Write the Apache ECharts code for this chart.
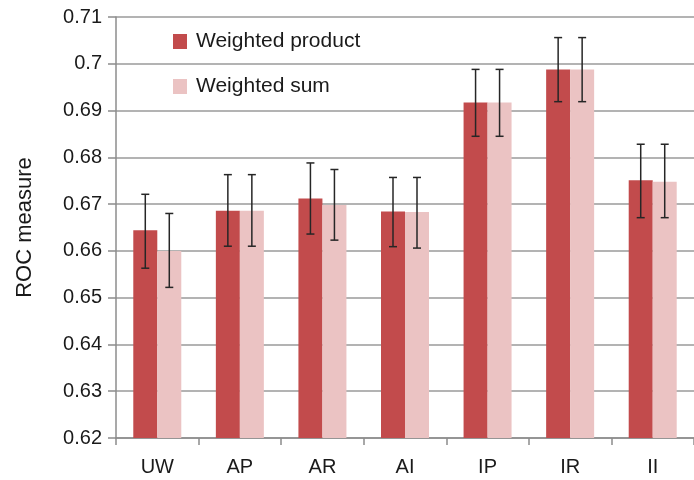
<!DOCTYPE html>
<html><head><meta charset="utf-8">
<script src="https://cdn.jsdelivr.net/npm/echarts@6/dist/echarts.min.js"></script>
<style>html,body{margin:0;padding:0;background:#fff}#c{width:694px;height:480px}</style>
</head><body><div id="c"></div>
<script>
var categories = ['UW','AP','AR','AI','IP','IR','II'];
var productValues = [0.6644, 0.6686, 0.6712, 0.6684, 0.6917, 0.6988, 0.6751];
var sumValues     = [0.6600, 0.6686, 0.6698, 0.6683, 0.6917, 0.6988, 0.6748];
var productLow  = [0.6563, 0.6610, 0.6636, 0.6609, 0.6845, 0.6919, 0.6671];
var productHigh = [0.6721, 0.6763, 0.6788, 0.6757, 0.6988, 0.7056, 0.6828];
var sumLow  = [0.6522, 0.6610, 0.6623, 0.6606, 0.6845, 0.6919, 0.6671];
var sumHigh = [0.6680, 0.6763, 0.6774, 0.6757, 0.6988, 0.7056, 0.6828];
var yTicks = {min: 0.62, max: 0.71, step: 0.01};
var seriesNames = ['Weighted product', 'Weighted sum'];

var font = 'Liberation Sans, Arial, sans-serif';
function errData(lo, hi){ return categories.map(function(c,i){ return [i, lo[i], hi[i]]; }); }
function errRender(offset){
  return function(params, api){
    var x = api.value(0);
    var lo = api.coord([x, api.value(1)]);
    var hi = api.coord([x, api.value(2)]);
    var cx = lo[0] + offset, cap = 4;
    var st = {stroke:'#262626', lineWidth:1.5};
    return {type:'group', children:[
      {type:'line', shape:{x1:cx,y1:hi[1],x2:cx,y2:lo[1]}, style:st},
      {type:'line', shape:{x1:cx-cap,y1:hi[1],x2:cx+cap,y2:hi[1]}, style:st},
      {type:'line', shape:{x1:cx-cap,y1:lo[1],x2:cx+cap,y2:lo[1]}, style:st}
    ]};
  };
}
var chart = echarts.init(document.getElementById('c'), null, {renderer:'canvas'});
chart.setOption({
  animation:false,
  textStyle:{fontFamily:font},
  grid:{left:116, top:17, width:581, bottom:42, containLabel:false},
  legend:{
    orient:'vertical', left:168, top:26, itemWidth:14, itemHeight:15, itemGap:24,
    icon:'rect',
    data:seriesNames,
    textStyle:{fontSize:21, lineHeight:21, color:'#1a1a1a', fontFamily:font, padding:[0,0,0,4]}
  },
  xAxis:{
    type:'category', data:categories,
    axisLine:{lineStyle:{color:'#8c8c8c', width:1.5}},
    axisTick:{show:true, length:7, lineStyle:{color:'#8c8c8c', width:1.5}},
    axisLabel:{fontSize:20, color:'#1a1a1a', margin:19, fontFamily:font}
  },
  yAxis:{
    type:'value', min:yTicks.min, max:yTicks.max, interval:yTicks.step,
    name:'ROC measure', nameLocation:'middle', nameGap:80, nameRotate:90,
    nameTextStyle:{fontSize:22, color:'#1a1a1a', fontFamily:font},
    axisLine:{show:true, lineStyle:{color:'#8c8c8c', width:1.5}},
    axisTick:{show:true, length:8, lineStyle:{color:'#8c8c8c', width:1.5}},
    axisLabel:{fontSize:20, color:'#1a1a1a', margin:14, fontFamily:font,
      formatter:function(v){ return String(Math.round(v*100)/100); }},
    splitLine:{lineStyle:{color:'#9a9a9a', width:1.5}}
  },
  series:[
    {name:seriesNames[0], type:'bar', data:productValues, barWidth:24, barGap:'0%',
      itemStyle:{color:'#c24b4c'}},
    {name:seriesNames[1], type:'bar', data:sumValues, barWidth:24, barGap:'0%',
      itemStyle:{color:'#ebc3c3'}},
    {type:'custom', renderItem:errRender(-12), data:errData(productLow, productHigh), z:10},
    {type:'custom', renderItem:errRender(12), data:errData(sumLow, sumHigh), z:10}
  ]
});
</script></body></html>
